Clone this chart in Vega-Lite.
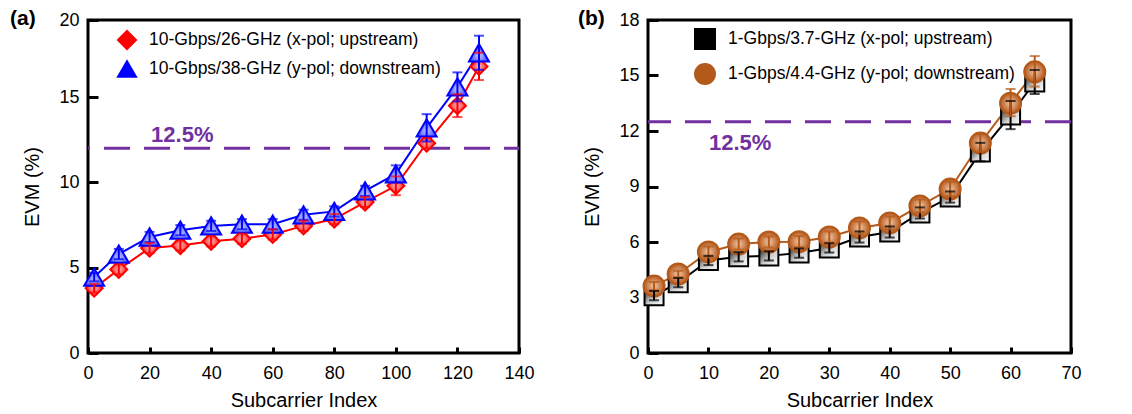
{
  "$schema": "https://vega.github.io/schema/vega-lite/v6.json",
  "background": "white",
  "padding": {"left": 8, "top": 6, "right": 5, "bottom": 5},
  "spacing": 129,
  "bounds": "flush",
  "datasets": {
    "left": [
      {"series": "10-Gbps/26-GHz (x-pol; upstream)", "x": 2, "y": 3.8, "lo": 3.55, "hi": 4.05},
      {"series": "10-Gbps/26-GHz (x-pol; upstream)", "x": 10, "y": 4.9, "lo": 4.6, "hi": 5.2},
      {"series": "10-Gbps/26-GHz (x-pol; upstream)", "x": 20, "y": 6.15, "lo": 5.85, "hi": 6.45},
      {"series": "10-Gbps/26-GHz (x-pol; upstream)", "x": 30, "y": 6.3, "lo": 6.0, "hi": 6.6},
      {"series": "10-Gbps/26-GHz (x-pol; upstream)", "x": 40, "y": 6.55, "lo": 6.25, "hi": 6.85},
      {"series": "10-Gbps/26-GHz (x-pol; upstream)", "x": 50, "y": 6.7, "lo": 6.4, "hi": 7.0},
      {"series": "10-Gbps/26-GHz (x-pol; upstream)", "x": 60, "y": 6.95, "lo": 6.65, "hi": 7.25},
      {"series": "10-Gbps/26-GHz (x-pol; upstream)", "x": 70, "y": 7.45, "lo": 7.15, "hi": 7.75},
      {"series": "10-Gbps/26-GHz (x-pol; upstream)", "x": 80, "y": 7.85, "lo": 7.55, "hi": 8.15},
      {"series": "10-Gbps/26-GHz (x-pol; upstream)", "x": 90, "y": 8.85, "lo": 8.55, "hi": 9.15},
      {"series": "10-Gbps/26-GHz (x-pol; upstream)", "x": 100, "y": 9.8, "lo": 9.25, "hi": 10.35},
      {"series": "10-Gbps/26-GHz (x-pol; upstream)", "x": 110, "y": 12.3, "lo": 12.0, "hi": 12.6},
      {"series": "10-Gbps/26-GHz (x-pol; upstream)", "x": 120, "y": 14.5, "lo": 13.83, "hi": 15.17},
      {"series": "10-Gbps/26-GHz (x-pol; upstream)", "x": 127, "y": 16.8, "lo": 16.0, "hi": 17.6},
      {"series": "10-Gbps/38-GHz (y-pol; downstream)", "x": 2, "y": 4.45, "lo": 4.2, "hi": 4.7},
      {"series": "10-Gbps/38-GHz (y-pol; downstream)", "x": 10, "y": 5.8, "lo": 5.5, "hi": 6.1},
      {"series": "10-Gbps/38-GHz (y-pol; downstream)", "x": 20, "y": 6.8, "lo": 6.5, "hi": 7.1},
      {"series": "10-Gbps/38-GHz (y-pol; downstream)", "x": 30, "y": 7.2, "lo": 6.9, "hi": 7.5},
      {"series": "10-Gbps/38-GHz (y-pol; downstream)", "x": 40, "y": 7.45, "lo": 7.15, "hi": 7.75},
      {"series": "10-Gbps/38-GHz (y-pol; downstream)", "x": 50, "y": 7.55, "lo": 7.25, "hi": 7.85},
      {"series": "10-Gbps/38-GHz (y-pol; downstream)", "x": 60, "y": 7.55, "lo": 7.25, "hi": 7.85},
      {"series": "10-Gbps/38-GHz (y-pol; downstream)", "x": 70, "y": 8.1, "lo": 7.8, "hi": 8.4},
      {"series": "10-Gbps/38-GHz (y-pol; downstream)", "x": 80, "y": 8.3, "lo": 8.0, "hi": 8.6},
      {"series": "10-Gbps/38-GHz (y-pol; downstream)", "x": 90, "y": 9.5, "lo": 9.2, "hi": 9.8},
      {"series": "10-Gbps/38-GHz (y-pol; downstream)", "x": 100, "y": 10.5, "lo": 10.0, "hi": 11.0},
      {"series": "10-Gbps/38-GHz (y-pol; downstream)", "x": 110, "y": 13.2, "lo": 12.4, "hi": 14.0},
      {"series": "10-Gbps/38-GHz (y-pol; downstream)", "x": 120, "y": 15.6, "lo": 14.75, "hi": 16.45},
      {"series": "10-Gbps/38-GHz (y-pol; downstream)", "x": 127, "y": 17.6, "lo": 16.6, "hi": 18.6}
    ],
    "right": [
      {"series": "1-Gbps/3.7-GHz (x-pol; upstream)", "x": 1, "y": 3.1, "lo": 2.85, "hi": 3.35},
      {"series": "1-Gbps/3.7-GHz (x-pol; upstream)", "x": 5, "y": 3.8, "lo": 3.55, "hi": 4.05},
      {"series": "1-Gbps/3.7-GHz (x-pol; upstream)", "x": 10, "y": 5.0, "lo": 4.75, "hi": 5.25},
      {"series": "1-Gbps/3.7-GHz (x-pol; upstream)", "x": 15, "y": 5.2, "lo": 4.95, "hi": 5.45},
      {"series": "1-Gbps/3.7-GHz (x-pol; upstream)", "x": 20, "y": 5.25, "lo": 5.0, "hi": 5.5},
      {"series": "1-Gbps/3.7-GHz (x-pol; upstream)", "x": 25, "y": 5.4, "lo": 5.15, "hi": 5.65},
      {"series": "1-Gbps/3.7-GHz (x-pol; upstream)", "x": 30, "y": 5.68, "lo": 5.43, "hi": 5.93},
      {"series": "1-Gbps/3.7-GHz (x-pol; upstream)", "x": 35, "y": 6.27, "lo": 5.97, "hi": 6.57},
      {"series": "1-Gbps/3.7-GHz (x-pol; upstream)", "x": 40, "y": 6.54, "lo": 6.24, "hi": 6.84},
      {"series": "1-Gbps/3.7-GHz (x-pol; upstream)", "x": 45, "y": 7.57, "lo": 7.27, "hi": 7.87},
      {"series": "1-Gbps/3.7-GHz (x-pol; upstream)", "x": 50, "y": 8.43, "lo": 8.13, "hi": 8.73},
      {"series": "1-Gbps/3.7-GHz (x-pol; upstream)", "x": 55, "y": 10.86, "lo": 10.36, "hi": 11.36},
      {"series": "1-Gbps/3.7-GHz (x-pol; upstream)", "x": 60, "y": 12.86, "lo": 12.1, "hi": 13.62},
      {"series": "1-Gbps/3.7-GHz (x-pol; upstream)", "x": 64, "y": 14.65, "lo": 14.0, "hi": 15.3},
      {"series": "1-Gbps/4.4-GHz (y-pol; downstream)", "x": 1, "y": 3.62, "lo": 3.4, "hi": 3.84},
      {"series": "1-Gbps/4.4-GHz (y-pol; downstream)", "x": 5, "y": 4.27, "lo": 4.1, "hi": 4.44},
      {"series": "1-Gbps/4.4-GHz (y-pol; downstream)", "x": 10, "y": 5.46, "lo": 5.16, "hi": 5.76},
      {"series": "1-Gbps/4.4-GHz (y-pol; downstream)", "x": 15, "y": 5.89, "lo": 5.59, "hi": 6.19},
      {"series": "1-Gbps/4.4-GHz (y-pol; downstream)", "x": 20, "y": 6.0, "lo": 5.7, "hi": 6.3},
      {"series": "1-Gbps/4.4-GHz (y-pol; downstream)", "x": 25, "y": 6.02, "lo": 5.72, "hi": 6.32},
      {"series": "1-Gbps/4.4-GHz (y-pol; downstream)", "x": 30, "y": 6.27, "lo": 5.97, "hi": 6.57},
      {"series": "1-Gbps/4.4-GHz (y-pol; downstream)", "x": 35, "y": 6.76, "lo": 6.41, "hi": 7.11},
      {"series": "1-Gbps/4.4-GHz (y-pol; downstream)", "x": 40, "y": 7.03, "lo": 6.68, "hi": 7.38},
      {"series": "1-Gbps/4.4-GHz (y-pol; downstream)", "x": 45, "y": 7.95, "lo": 7.6, "hi": 8.3},
      {"series": "1-Gbps/4.4-GHz (y-pol; downstream)", "x": 50, "y": 8.86, "lo": 8.46, "hi": 9.26},
      {"series": "1-Gbps/4.4-GHz (y-pol; downstream)", "x": 55, "y": 11.35, "lo": 10.85, "hi": 11.85},
      {"series": "1-Gbps/4.4-GHz (y-pol; downstream)", "x": 60, "y": 13.5, "lo": 12.8, "hi": 14.27},
      {"series": "1-Gbps/4.4-GHz (y-pol; downstream)", "x": 64, "y": 15.2, "lo": 14.4, "hi": 16.05}
    ]
  },
  "hconcat": [
    {
      "width": 431,
      "height": 333,
      "title": {"text": "(a)", "anchor": "start", "frame": "group", "fontSize": 21, "fontWeight": "bold", "font": "Liberation Sans", "color": "black", "baseline": "alphabetic", "offset": 0, "dx": -78, "dy": 35},
      "layer": [
        {
          "data": {"values": [{"thr": 12}]},
          "mark": {"type": "rule", "color": "#7030A0", "strokeWidth": 3, "strokeDash": [26, 14], "strokeDashOffset": 11},
          "encoding": {"y": {"field": "thr", "type": "quantitative", "title": "EVM  (%)"}}
        },
        {
          "data": {"values": [{"x": 20.5, "y": 12.78, "label": "12.5%"}]},
          "mark": {"type": "text", "align": "left", "baseline": "middle", "font": "Liberation Sans", "fontSize": 22, "fontWeight": "bold", "color": "#7030A0"},
          "encoding": {
            "x": {"field": "x", "type": "quantitative", "title": "Subcarrier Index"},
            "y": {"field": "y", "type": "quantitative", "title": "EVM  (%)"},
            "text": {"field": "label"}
          }
        },
        {
          "data": {"name": "left"},
          "encoding": {
            "x": {"field": "x", "type": "quantitative", "title": "Subcarrier Index", "scale": {"domain": [0, 140], "nice": false, "zero": false},
              "axis": {"values": [0, 10, 20, 30, 40, 50, 60, 70, 80, 90, 100, 110, 120, 130, 140], "labelExpr": "datum.value % 20 === 0 ? datum.label : ''", "tickSize": -6, "labelPadding": 17, "titlePadding": 8}},
            "y": {"field": "y", "type": "quantitative", "title": "EVM  (%)", "scale": {"domain": [0, 19.52], "nice": false, "zero": false},
              "axis": {"values": [0, 5, 10, 15, 19.52], "labelExpr": "datum.value > 19 ? '20' : datum.label", "tickSize": -10, "labelPadding": 19, "titlePadding": 16}},
            "color": {"field": "series", "type": "nominal", "scale": {"domain": ["10-Gbps/26-GHz (x-pol; upstream)", "10-Gbps/38-GHz (y-pol; downstream)"], "range": ["#ff0000", "#0000ff"]},
              "legend": {"orient": "none", "legendX": 29, "legendY": 10, "symbolSize": 324, "labelOffset": 12, "rowPadding": 4}}
          },
          "layer": [
            {
              "mark": {"type": "line", "strokeWidth": 2}
            },
            {
              "mark": {"type": "point", "filled": false, "strokeWidth": 2, "opacity": 1},
              "encoding": {
                "fill": {"condition": {"test": "datum.series === '10-Gbps/26-GHz (x-pol; upstream)'", "value": {"gradient": "radial", "x1": 0.5, "y1": 0.5, "r1": 0, "x2": 0.5, "y2": 0.5, "r2": 0.5, "stops": [{"offset": 0, "color": "#ffb8b8"}, {"offset": 1, "color": "#ff2020"}]}},
                  "value": {"gradient": "radial", "x1": 0.5, "y1": 0.65, "r1": 0, "x2": 0.5, "y2": 0.6, "r2": 0.6, "stops": [{"offset": 0, "color": "#c0c6ff"}, {"offset": 1, "color": "#2233ff"}]}},
                "shape": {"field": "series", "type": "nominal", "scale": {"domain": ["10-Gbps/26-GHz (x-pol; upstream)", "10-Gbps/38-GHz (y-pol; downstream)"], "range": ["diamond", "triangle-up"]},
                  "legend": {"orient": "none", "legendX": 29, "legendY": 10, "symbolSize": 324, "labelOffset": 12, "rowPadding": 4}},
                "size": {"condition": {"test": "datum.series === '10-Gbps/26-GHz (x-pol; upstream)'", "value": 289}, "value": 400}
              }
            },
            {
              "mark": {"type": "rule", "strokeWidth": 2},
              "encoding": {
                "y": {"field": "lo", "type": "quantitative", "title": "EVM  (%)"},
                "y2": {"field": "hi"}
              }
            },
            {
              "mark": {"type": "tick", "orient": "horizontal", "size": 10, "thickness": 2},
              "encoding": {
                "y": {"field": "lo", "type": "quantitative", "title": "EVM  (%)"}
              }
            },
            {
              "mark": {"type": "tick", "orient": "horizontal", "size": 10, "thickness": 2},
              "encoding": {
                "y": {"field": "hi", "type": "quantitative", "title": "EVM  (%)"}
              }
            }
          ]
        }
      ]
    },
    {
      "width": 423,
      "height": 333,
      "title": {"text": "(b)", "anchor": "start", "frame": "group", "fontSize": 21, "fontWeight": "bold", "font": "Liberation Sans", "color": "black", "baseline": "alphabetic", "offset": 0, "dx": -70, "dy": 35},
      "layer": [
        {
          "data": {"values": [{"thr": 12.5}]},
          "mark": {"type": "rule", "color": "#7030A0", "strokeWidth": 3, "strokeDash": [26, 14]},
          "encoding": {"y": {"field": "thr", "type": "quantitative", "title": "EVM  (%)"}}
        },
        {
          "data": {"values": [{"x": 10.1, "y": 11.35, "label": "12.5%"}]},
          "mark": {"type": "text", "align": "left", "baseline": "middle", "font": "Liberation Sans", "fontSize": 22, "fontWeight": "bold", "color": "#7030A0"},
          "encoding": {
            "x": {"field": "x", "type": "quantitative", "title": "Subcarrier Index"},
            "y": {"field": "y", "type": "quantitative", "title": "EVM  (%)"},
            "text": {"field": "label"}
          }
        },
        {
          "data": {"name": "right"},
          "encoding": {
            "x": {"field": "x", "type": "quantitative", "title": "Subcarrier Index", "scale": {"domain": [0, 70], "nice": false, "zero": false},
              "axis": {"values": [0, 5, 10, 15, 20, 25, 30, 35, 40, 45, 50, 55, 60, 65, 70], "labelExpr": "datum.value % 10 === 0 ? datum.label : ''", "tickSize": -6, "labelPadding": 17, "titlePadding": 8}},
            "y": {"field": "y", "type": "quantitative", "title": "EVM  (%)", "scale": {"domain": [0, 18], "nice": false, "zero": false},
              "axis": {"values": [0, 3, 6, 9, 12, 15, 18], "tickSize": -10, "labelPadding": 19, "titlePadding": 16}},
            "color": {"field": "series", "type": "nominal", "scale": {"domain": ["1-Gbps/3.7-GHz (x-pol; upstream)", "1-Gbps/4.4-GHz (y-pol; downstream)"], "range": ["#000000", "#b35a1a"]},
              "legend": {"orient": "none", "legendX": 46, "legendY": 8, "symbolSize": 400, "labelOffset": 12, "rowPadding": 7}}
          },
          "layer": [
            {
              "mark": {"type": "line", "strokeWidth": 2}
            },
            {
              "mark": {"type": "point", "filled": false, "strokeWidth": 2, "opacity": 1},
              "encoding": {
                "fill": {"condition": {"test": "datum.series === '1-Gbps/3.7-GHz (x-pol; upstream)'", "value": {"gradient": "linear", "x1": 0, "y1": 0, "x2": 1, "y2": 1, "stops": [{"offset": 0, "color": "#000000"}, {"offset": 0.55, "color": "#cfcfcf"}, {"offset": 1, "color": "#ffffff"}]}},
                  "value": {"gradient": "radial", "x1": 0.5, "y1": 0.5, "r1": 0, "x2": 0.5, "y2": 0.5, "r2": 0.5, "stops": [{"offset": 0, "color": "#f2c8a8"}, {"offset": 1, "color": "#b5581b"}]}},
                "shape": {"field": "series", "type": "nominal", "scale": {"domain": ["1-Gbps/3.7-GHz (x-pol; upstream)", "1-Gbps/4.4-GHz (y-pol; downstream)"], "range": ["square", "circle"]},
                  "legend": {"orient": "none", "legendX": 46, "legendY": 8, "symbolSize": 400, "labelOffset": 12, "rowPadding": 7}},
                "size": {"condition": {"test": "datum.series === '1-Gbps/3.7-GHz (x-pol; upstream)'", "value": 361}, "value": 441}
              }
            },
            {
              "mark": {"type": "rule", "strokeWidth": 2},
              "encoding": {
                "y": {"field": "lo", "type": "quantitative", "title": "EVM  (%)"},
                "y2": {"field": "hi"}
              }
            },
            {
              "mark": {"type": "tick", "orient": "horizontal", "size": 10, "thickness": 2},
              "encoding": {
                "y": {"field": "lo", "type": "quantitative", "title": "EVM  (%)"}
              }
            },
            {
              "mark": {"type": "tick", "orient": "horizontal", "size": 10, "thickness": 2},
              "encoding": {
                "y": {"field": "hi", "type": "quantitative", "title": "EVM  (%)"}
              }
            }
          ]
        }
      ]
    }
  ],
  "resolve": {"scale": {"color": "independent", "shape": "independent", "x": "independent", "y": "independent"}, "legend": {"color": "independent", "shape": "independent"}},
  "config": {
    "font": "Liberation Sans",
    "view": {"stroke": "black", "strokeWidth": 3},
    "axis": {"domain": false, "grid": false, "labelFlush": false, "labelFont": "Liberation Sans", "labelFontSize": 18, "labelColor": "black", "titleFont": "Liberation Sans", "titleFontSize": 20, "titleFontWeight": "normal", "titleColor": "black", "tickColor": "black", "tickWidth": 3},
    "legend": {"title": null, "labelFont": "Liberation Sans", "labelFontSize": 17.5, "labelColor": "black", "symbolStrokeWidth": 2, "padding": 0, "labelLimit": 0}
  }
}
